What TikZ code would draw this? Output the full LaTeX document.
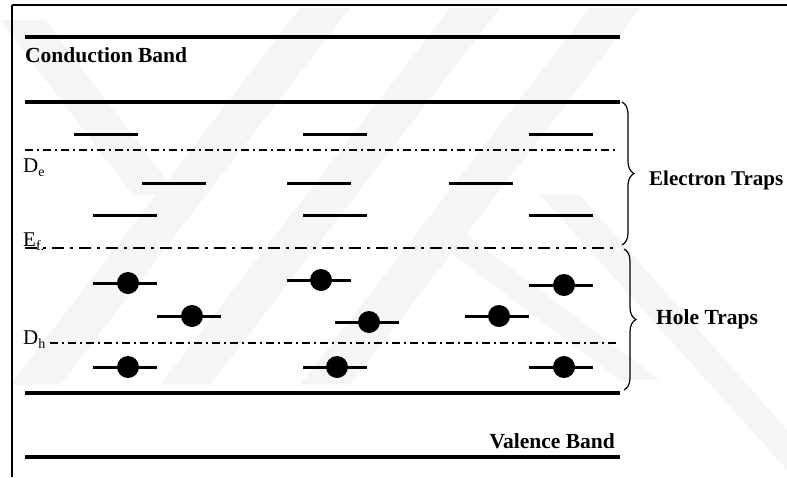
\documentclass[tikz,border=0pt]{standalone}
\usepackage{fontspec}
\setmainfont{Liberation Serif}
\usetikzlibrary{decorations.pathreplacing}

\tikzset{
  band/.style={line width=4.5pt},
  level/.style={line width=3pt},
  refline/.style={line width=1.4pt, dash pattern=on 8pt off 4pt on 2pt off 4pt},
  fermiline/.style={line width=2.2pt, dash pattern=on 12pt off 6pt on 3pt off 6pt},
  trapped/.style={circle, fill=black, inner sep=0pt, minimum size=22pt},
  bandlabel/.style={font=\bfseries\fontsize{21.5}{24}\selectfont, inner sep=0pt},
  lvllabel/.style={font=\fontsize{21}{23}\selectfont, inner sep=0pt},
  trapbrace/.style={line width=1.2pt, decorate, decoration={brace, amplitude=12pt}},
  wm/.style={fill=black!4, draw=none}
}
\newcommand{\lvlsub}[1]{\raisebox{-0.22em}{\fontsize{14}{14}\selectfont #1}}

\begin{document}
\begin{tikzpicture}[x=1pt, y=-1pt]
\useasboundingbox (0,0) rectangle (787,477);

% faint background watermark bands
\fill[wm] (0,20) -- (45,20) -- (178,195) -- (133,195) -- cycle;
\fill[wm] (300,8) -- (350,8) -- (60,385) -- (10,385) -- cycle;
\fill[wm] (450,8) -- (500,8) -- (210,385) -- (160,385) -- cycle;
\fill[wm] (590,8) -- (640,8) -- (350,385) -- (300,385) -- cycle;
\fill[wm] (540,195) -- (580,195) -- (787,430) -- (787,470) -- cycle;
\fill[wm] (420,230) -- (460,230) -- (660,380) -- (620,380) -- cycle;

% frame edges
\draw[line width=1.5pt] (12,5) -- (787,5);
\draw[line width=1.5pt] (12,5) -- (12,477);

% band edges
\coordinate (cbT1) at (25,37);   \coordinate (cbT2) at (620,37);
\coordinate (cbB1) at (25,102);  \coordinate (cbB2) at (620,102);
\coordinate (vbT1) at (25,393);  \coordinate (vbT2) at (620,393);
\coordinate (vbB1) at (25,457);  \coordinate (vbB2) at (620,457);
\draw[band] (cbT1) -- (cbT2);
\draw[band] (cbB1) -- (cbB2);
\draw[band] (vbT1) -- (vbT2);
\draw[band] (vbB1) -- (vbB2);

\node[bandlabel, anchor=base west] (cbl) at (25,62) {Conduction Band};
\node[bandlabel, anchor=base east] (vbl) at (615,448) {Valence Band};

% reference levels
\coordinate (De1) at (25,150);  \coordinate (De2) at (618,150);
\coordinate (Ef1) at (25,248);  \coordinate (Ef2) at (618,248);
\coordinate (Dh1) at (50,343);  \coordinate (Dh2) at (618,343);
\draw[refline] (De1) -- (De2);
\draw[fermiline] (Ef1) -- (Ef2);
\draw[refline] (Dh1) -- (Dh2);

\node[lvllabel, anchor=base west] (del) at (23,172) {D\lvlsub{e}};
\node[lvllabel, anchor=base west] (efl) at (23,246) {E\lvlsub{f.}};
\node[lvllabel, anchor=base west] (dhl) at (23,344) {D\lvlsub{h}};

% empty electron trap levels
\foreach \xa/\yy in {74/134, 303/134, 529/134,
                     142/183, 287/183, 449/183,
                     93/215, 303/215, 529/215}
  \draw[level] (\xa,\yy) -- ++(64,0);

% occupied hole trap levels
\foreach \xa/\yy/\xd in {93/283/128, 287/280/321, 529/285/564,
                         157/316/192, 335/322/369, 465/316/499,
                         93/367/128, 303/367/337, 529/367/564}
{
  \draw[level] (\xa,\yy) -- ++(64,0);
  \node[trapped] at (\xd,\yy) {};
}

% braces
\coordinate (eb1) at (622,102);  \coordinate (eb2) at (622,245);
\coordinate (hb1) at (624,249);  \coordinate (hb2) at (624,390);
\draw[trapbrace] (eb1) -- (eb2);
\draw[trapbrace] (hb1) -- (hb2);

\node[bandlabel, font=\bfseries\fontsize{21}{24}\selectfont, anchor=base west] (etl) at (649,185) {Electron Traps};
\node[bandlabel, anchor=base west] (htl) at (656,324) {Hole Traps};
\end{tikzpicture}
\end{document}
